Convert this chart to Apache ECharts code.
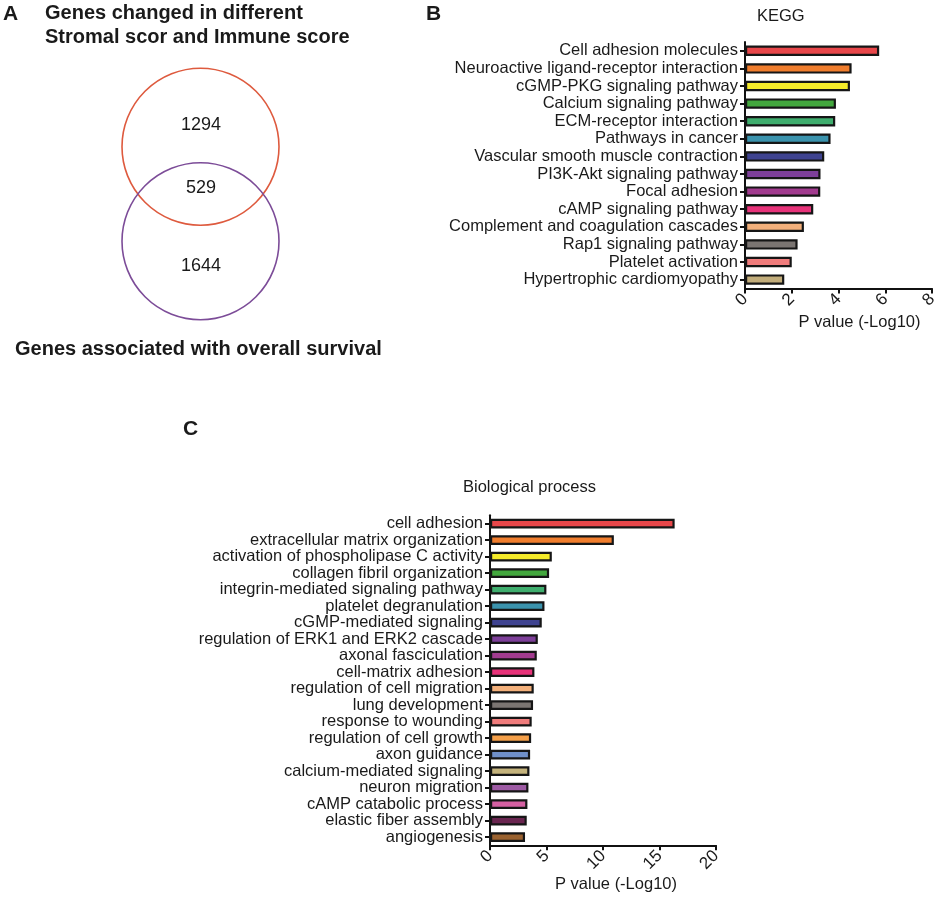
<!DOCTYPE html>
<html>
<head>
<meta charset="utf-8">
<script src="https://cdn.jsdelivr.net/npm/echarts@6/dist/echarts.min.js"></script>
<style>html,body{margin:0;padding:0;background:#fff}#c{width:941px;height:897px}</style>
</head>
<body>
<div id="c"></div>
<script>
// ---- Data ----
const vennSets = ['Genes changed in different\nStromal scor and Immune score', 'Genes associated with overall survival'];
const vennCounts = [1294, 529, 1644]; // only set1, overlap, only set2

const keggTerms = ['Cell adhesion molecules','Neuroactive ligand-receptor interaction','cGMP-PKG signaling pathway','Calcium signaling pathway','ECM-receptor interaction','Pathways in cancer','Vascular smooth muscle contraction','PI3K-Akt signaling pathway','Focal adhesion','cAMP signaling pathway','Complement and coagulation cascades','Rap1 signaling pathway','Platelet activation','Hypertrophic cardiomyopathy'];
const keggValues = [5.74, 4.56, 4.49, 3.89, 3.86, 3.66, 3.39, 3.23, 3.22, 2.92, 2.52, 2.25, 2.0, 1.68];
const keggColors = ['#e8474a','#f07d2d','#f5eb2a','#43a83e','#3fae6e','#3b93ad','#3f4390','#7d3f99','#a23b8f','#e8337a','#f3b07b','#7b7572','#f07c7c','#c2ad7b'];
const keggAxis = {min: 0, max: 8, interval: 2};

const bpTerms = ['cell adhesion','extracellular matrix organization','activation of phospholipase C activity','collagen fibril organization','integrin-mediated signaling pathway','platelet degranulation','cGMP-mediated signaling','regulation of ERK1 and ERK2 cascade','axonal fasciculation','cell-matrix adhesion','regulation of cell migration','lung development','response to wounding','regulation of cell growth','axon guidance','calcium-mediated signaling','neuron migration','cAMP catabolic process','elastic fiber assembly','angiogenesis'];
const bpValues = [16.34, 10.96, 5.47, 5.23, 4.99, 4.82, 4.58, 4.23, 4.14, 3.93, 3.87, 3.81, 3.69, 3.64, 3.55, 3.49, 3.40, 3.31, 3.25, 3.10];
const bpColors = ['#e8474a','#f07d2d','#f5eb2a','#43a83e','#3fae6e','#3b93ad','#3f4390','#7d3f99','#a23b8f','#e8337a','#f3b07b','#7b7572','#f07c7c','#f5a04a','#6f8fc8','#c4b37c','#9d5aa3','#d560a2','#6a2550','#9a6230'];
const bpAxis = {min: 0, max: 20, interval: 5};

const axisName = 'P value (-Log10)';

// ---- Chart ----
const FONT = '"Liberation Sans", Arial, Helvetica, sans-serif';
const TXT = '#1a1a1a';
const chart = echarts.init(document.getElementById('c'), null, {renderer: 'canvas'});

function xAx(gi, ax, gap, pad) {
  return {
    gridIndex: gi, type: 'value', min: ax.min, max: ax.max, interval: ax.interval,
    splitLine: {show: false},
    axisLine: {show: true, onZero: false, lineStyle: {color: '#111', width: 2}},
    axisTick: {show: true, length: 5, lineStyle: {color: '#111', width: 2}},
    axisLabel: {show: true, rotate: 45, fontSize: 17, color: TXT, margin: 8, fontFamily: FONT},
    name: axisName, nameLocation: 'middle', nameGap: gap,
    nameTextStyle: {fontSize: 16.5, color: TXT, fontFamily: FONT, padding: [0, 0, 0, pad]}
  };
}
function yAx(gi, terms) {
  return {
    gridIndex: gi, type: 'category', data: terms, inverse: true,
    axisLine: {show: true, lineStyle: {color: '#111', width: 2}},
    axisTick: {show: true, alignWithLabel: true, length: 5, lineStyle: {color: '#111', width: 2}},
    axisLabel: {show: true, interval: 0, fontSize: 16.5, color: TXT, margin: 7, fontFamily: FONT},
    splitLine: {show: false}
  };
}
function barSeries(xi, vals, cols) {
  return {
    type: 'bar', xAxisIndex: xi, yAxisIndex: xi, barWidth: '59%',
    data: vals.map((v, i) => ({value: v, itemStyle: {color: cols[i]}})),
    itemStyle: {borderColor: '#161616', borderWidth: 2.2},
    emphasis: {disabled: true}
  };
}
function txt(text, x, y, size, bold, align) {
  return {type: 'text', x: x, y: y, silent: true,
    style: {text: text, fontSize: size, fontWeight: bold ? 'bold' : 'normal', fontFamily: FONT,
      fill: TXT, align: align || 'left', verticalAlign: 'middle'}};
}

const setTitle1 = vennSets[0].split('\n');
const graphics = [
  txt('A', 3, 14, 21, true),
  txt(setTitle1[0], 45, 13, 20, true),
  txt(setTitle1[1], 45, 37.5, 20, true),
  {type: 'circle', silent: true, shape: {cx: 200.5, cy: 146.7, r: 78.5}, style: {fill: 'transparent', stroke: '#de5a3e', lineWidth: 1.6}},
  {type: 'circle', silent: true, shape: {cx: 200.5, cy: 241.2, r: 78.5}, style: {fill: 'transparent', stroke: '#7c4c98', lineWidth: 1.6}},
  txt(String(vennCounts[0]), 201, 125, 18, false, 'center'),
  txt(String(vennCounts[1]), 201, 188, 18, false, 'center'),
  txt(String(vennCounts[2]), 201, 266.5, 18, false, 'center'),
  txt(vennSets[1], 15, 349, 20, true),
  txt('B', 426, 14.5, 21, true),
  txt('KEGG', 757, 16, 16.5, false),
  txt('C', 183, 429, 21, true),
  txt('Biological process', 463, 487, 16.5, false)
];

chart.setOption({
  animation: false,
  backgroundColor: '#fff',
  grid: [
    {left: 745, right: 9, top: 42, height: 246.4},
    {left: 490, right: 225, top: 515.3, height: 330}
  ],
  xAxis: [xAx(0, keggAxis, 26, 42), xAx(1, bpAxis, 31, 26)],
  yAxis: [yAx(0, keggTerms), yAx(1, bpTerms)],
  series: [barSeries(0, keggValues, keggColors), barSeries(1, bpValues, bpColors)],
  graphic: graphics
});
</script>
</body>
</html>
